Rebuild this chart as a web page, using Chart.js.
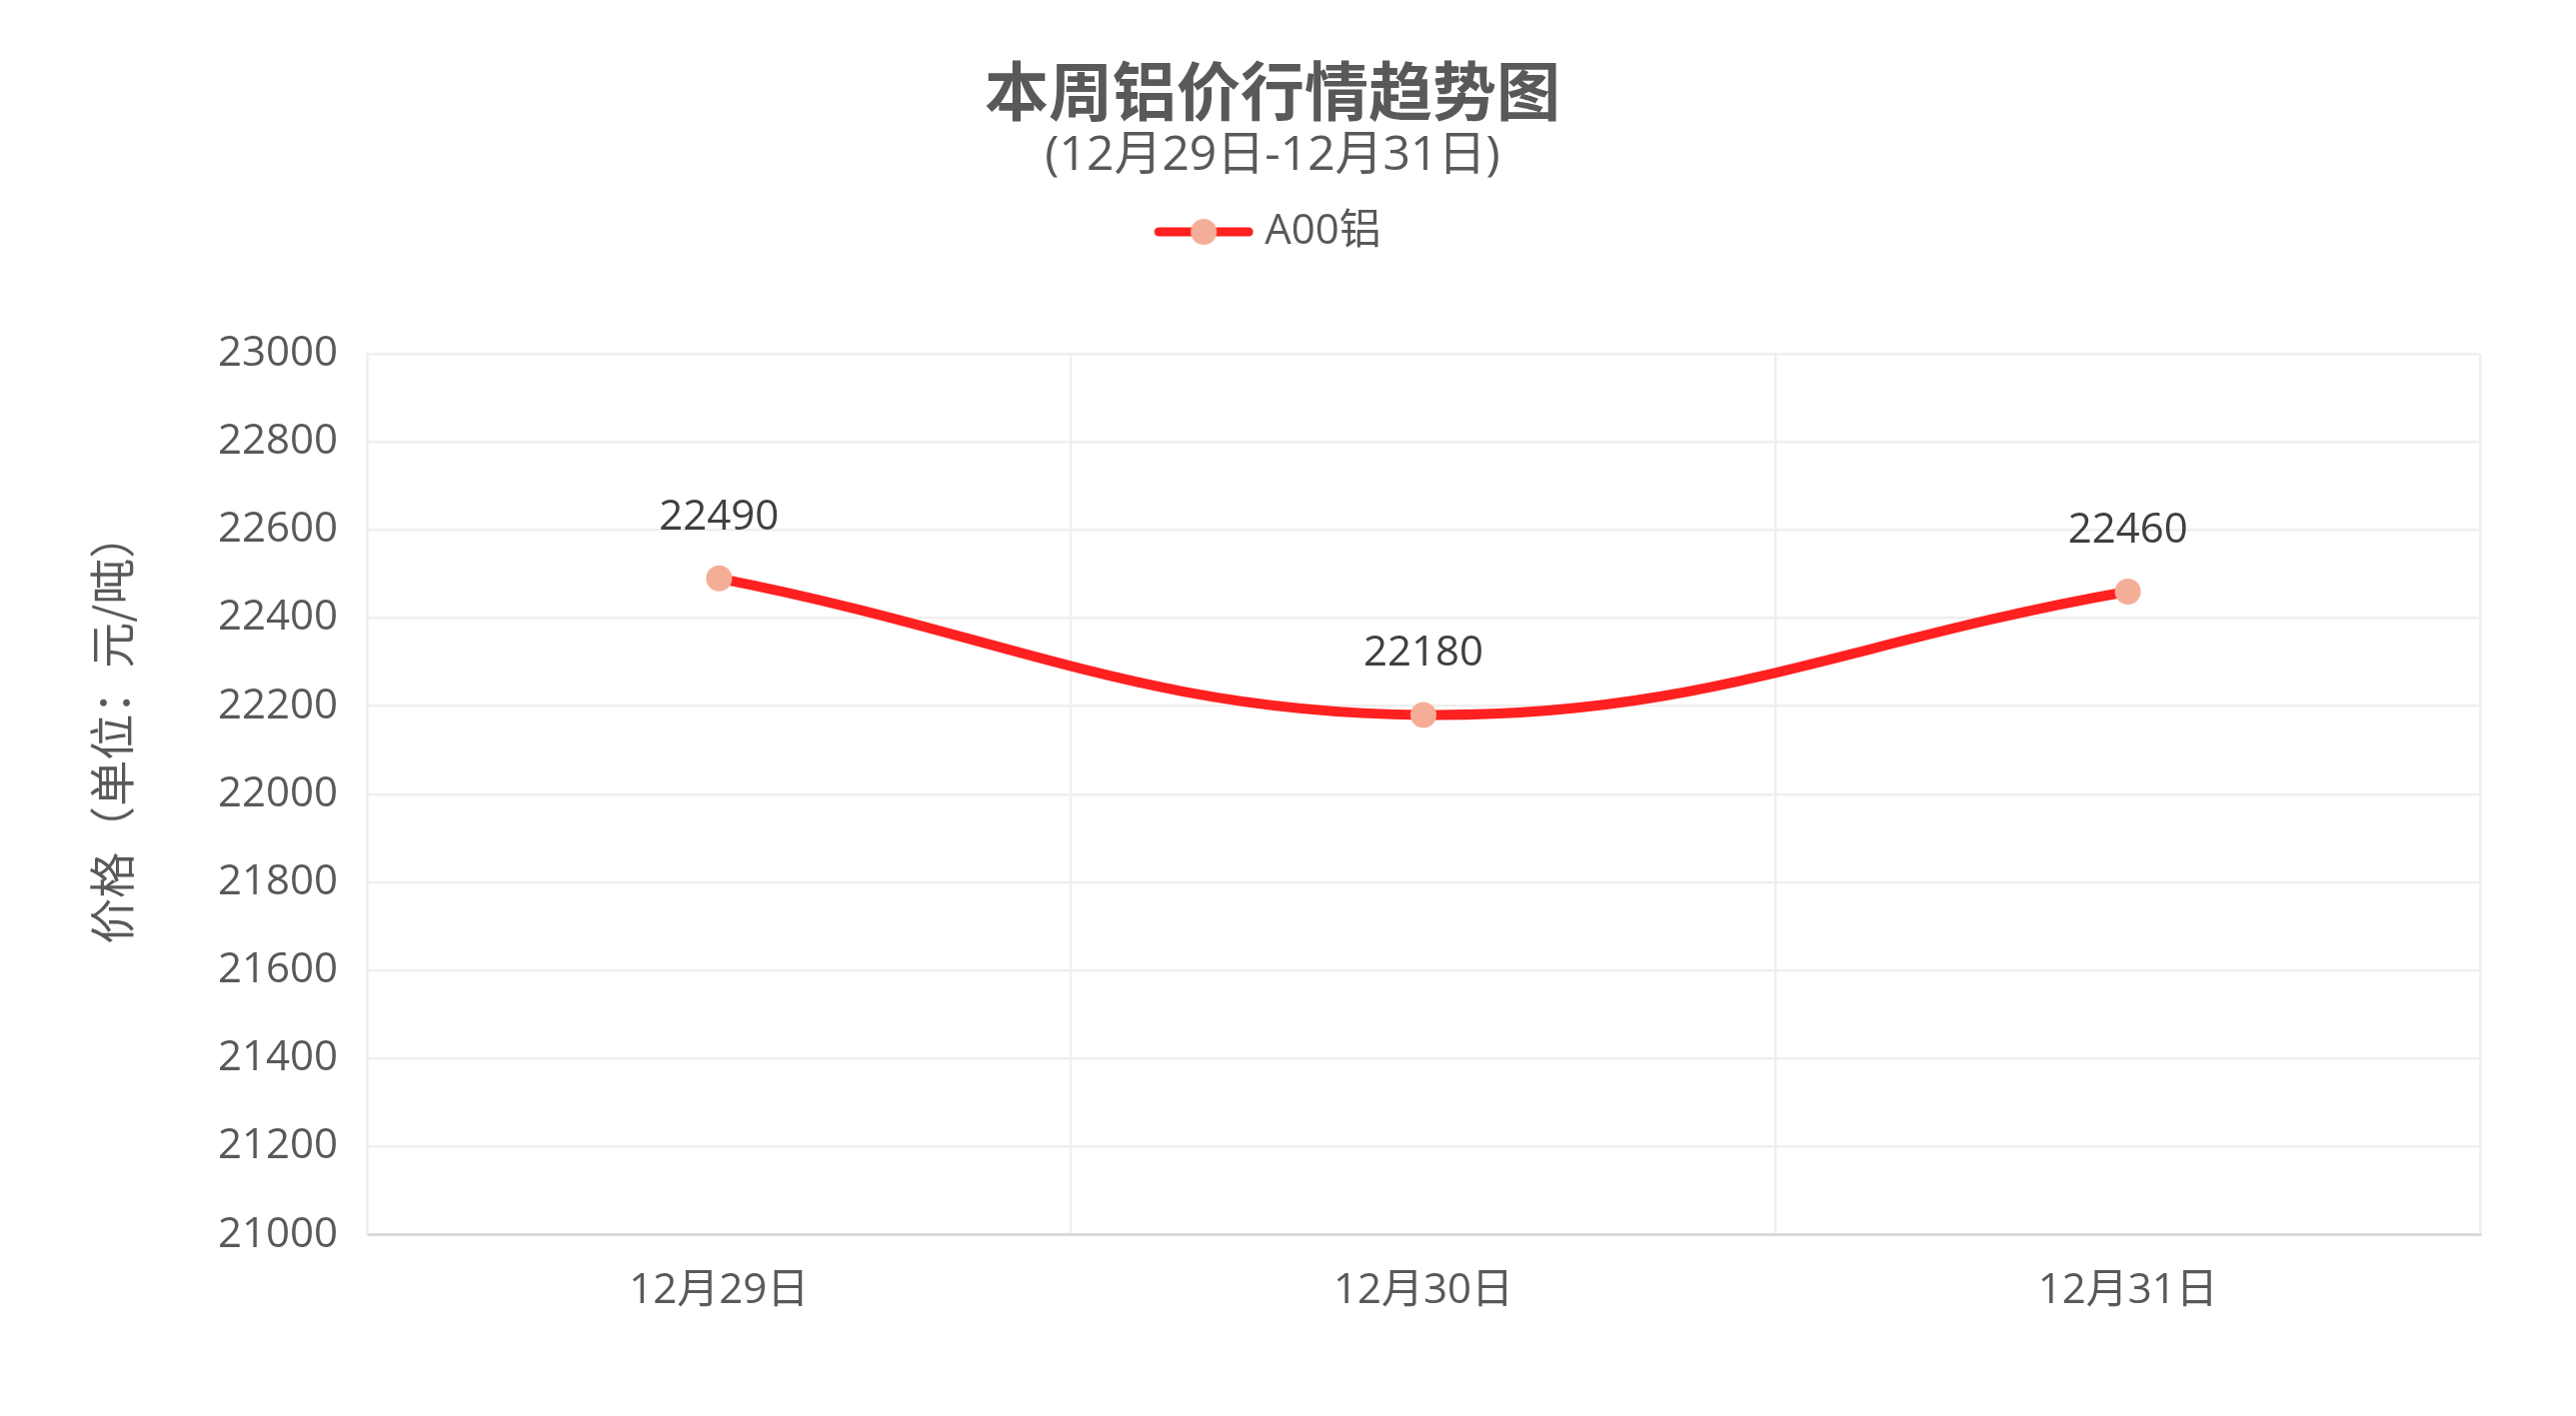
<!DOCTYPE html>
<html><head><meta charset="utf-8">
<style>html,body{margin:0;padding:0;background:#fff;} #wrap{width:2577px;height:1417px;position:relative;}</style>
<script src="https://cdn.jsdelivr.net/npm/chart.js@4.4.1/dist/chart.umd.min.js"></script>
</head><body><div id="wrap"><canvas id="c" width="2577" height="1417"></canvas></div>
<script>
const categories = ['12月29日', '12月30日', '12月31日'];
const seriesName = 'A00铝';
const prices = [22490, 22180, 22460];
const yMin = 21000, yMax = 23000, yStep = 200;
const titleText = '本周铝价行情趋势图';
const subtitleText = '(12月29日-12月31日)';
const yAxisTitle = '价格（单位：元/吨）';

const FONT = '"Open Sans", "Noto Sans CJK SC", sans-serif';
const CJK = '"Noto Sans CJK SC", sans-serif';
const LINE = '#FF2020';
const PT = '#F4AE98';
const TXT = '#595959';

// legend symbol: line with dot
const sym = document.createElement('canvas');
sym.width = 100; sym.height = 30;
(function(){
  const g = sym.getContext('2d');
  g.strokeStyle = LINE; g.lineWidth = 9; g.lineCap = 'round';
  g.beginPath(); g.moveTo(5, 15); g.lineTo(95, 15); g.stroke();
  g.fillStyle = PT; g.beginPath(); g.arc(50, 15, 13, 0, Math.PI * 2); g.fill();
})();

const legendGap = {
  id: 'legendGap',
  beforeLayout(chart) {
    const lg = chart.legend;
    if (lg && !lg._gapPatched) {
      const f = lg.fit.bind(lg);
      lg.fit = function() { f(); this.height += 91; };
      lg._gapPatched = true;
    }
  }
};

const dataLabels = {
  id: 'dataLabels',
  afterDatasetsDraw(chart) {
    const ctx = chart.ctx;
    const meta = chart.getDatasetMeta(0);
    ctx.save();
    ctx.font = '42px ' + FONT;
    ctx.fillStyle = '#404040';
    ctx.textAlign = 'center';
    ctx.textBaseline = 'alphabetic';
    meta.data.forEach((el, i) => {
      ctx.fillText(String(prices[i]), el.x, el.y - 49);
    });
    ctx.restore();
  }
};

const yTitle = {
  id: 'yTitle',
  afterDraw(chart) {
    const ctx = chart.ctx;
    const a = chart.chartArea;
    ctx.save();
    ctx.translate(112, a.top + (a.bottom - a.top) * 0.425);
    ctx.rotate(-Math.PI / 2);
    ctx.font = '46px ' + CJK;
    ctx.fillStyle = TXT;
    ctx.textAlign = 'center';
    ctx.textBaseline = 'middle';
    ctx.fillText(yAxisTitle, 0, 0);
    ctx.restore();
  }
};

new Chart(document.getElementById('c'), {
  type: 'line',
  data: {
    labels: categories,
    datasets: [{
      label: seriesName,
      data: prices,
      borderColor: LINE,
      backgroundColor: PT,
      borderWidth: 10,
      tension: 0.4,
      pointRadius: 13,
      pointHoverRadius: 13,
      pointBackgroundColor: PT,
      pointBorderColor: PT,
      pointBorderWidth: 0,
      clip: false
    }]
  },
  options: {
    responsive: false,
    devicePixelRatio: 1,
    animation: false,
    layout: { padding: { left: 65, right: 96, top: 0, bottom: 69 } },
    plugins: {
      tooltip: { enabled: false },
      title: {
        display: true, text: titleText, color: TXT,
        font: { family: CJK, size: 64, weight: 'bold', lineHeight: 1.0 },
        padding: { top: 59, bottom: 0 }
      },
      subtitle: {
        display: true, text: subtitleText, color: TXT,
        font: { family: FONT, size: 48, lineHeight: 1.0 },
        padding: { top: 9, bottom: 21 }
      },
      legend: {
        display: true, position: 'top',
        labels: {
          usePointStyle: true,
          pointStyleWidth: 80,
          padding: 10,
          color: TXT,
          font: { family: FONT, size: 42 },
          generateLabels(chart) {
            const items = Chart.defaults.plugins.legend.labels.generateLabels(chart);
            items.forEach(it => { it.pointStyle = sym; it.fontColor = TXT; });
            return items;
          }
        }
      }
    },
    scales: {
      x: {
        offset: true,
        grid: { offset: true, color: '#EFEFEF', lineWidth: 2.5, drawTicks: false },
        border: { color: '#D9D9D9', width: 3 },
        ticks: { color: TXT, font: { family: FONT, size: 42 }, padding: 31 }
      },
      y: {
        min: yMin, max: yMax,
        afterFit(scale) { scale.width = 302; },
        grid: { color: '#EFEFEF', lineWidth: 2.5, drawTicks: false },
        border: { color: '#EFEFEF', width: 2.5 },
        ticks: {
          stepSize: yStep, color: TXT, font: { family: FONT, size: 42 }, padding: 29,
          callback: (v) => String(v)
        }
      }
    }
  },
  plugins: [legendGap, dataLabels, yTitle]
});
</script>
</body></html>
